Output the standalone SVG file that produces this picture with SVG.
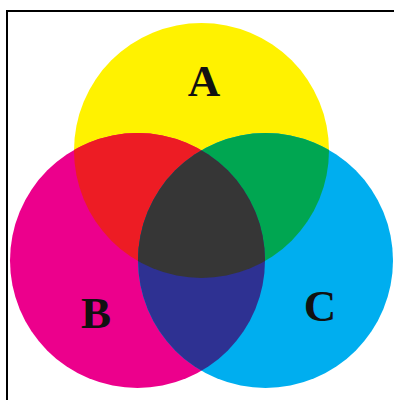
<svg xmlns="http://www.w3.org/2000/svg" width="394" height="400" viewBox="0 0 394 400">
  <style>
    .lbl { font-family: "Liberation Serif", "Times New Roman", serif; font-weight: bold; font-size: 45px; fill: #111; text-anchor: middle; }
  </style>
  <defs>
    <clipPath id="clipA"><circle cx="201.5" cy="150.5" r="127.5"/></clipPath>
    <clipPath id="clipB"><circle cx="137.5" cy="260.5" r="127.5"/></clipPath>
    <clipPath id="clipC"><circle cx="265.5" cy="260.5" r="127.5"/></clipPath>
  </defs>
  <rect x="0" y="0" width="394" height="400" fill="#ffffff"/>
  <path d="M7 400 V11 H394" fill="none" stroke="#000" stroke-width="2"/>
  <g id="circleA"><circle cx="201.5" cy="150.5" r="127.5" fill="#FFF200"/></g>
  <g id="circleB"><circle cx="137.5" cy="260.5" r="127.5" fill="#EC008C"/></g>
  <g id="circleC"><circle cx="265.5" cy="260.5" r="127.5" fill="#00AEEF"/></g>
  <g id="AB" clip-path="url(#clipA)"><circle cx="137.5" cy="260.5" r="127.5" fill="#ED1C24"/></g>
  <g id="AC" clip-path="url(#clipA)"><circle cx="265.5" cy="260.5" r="127.5" fill="#00A651"/></g>
  <g id="BC" clip-path="url(#clipB)"><circle cx="265.5" cy="260.5" r="127.5" fill="#2E3192"/></g>
  <g id="ABC" clip-path="url(#clipA)"><g clip-path="url(#clipB)"><circle cx="265.5" cy="260.5" r="127.5" fill="#363636"/></g></g>
  <g id="labels">
    <text class="lbl" x="204" y="96">A</text>
    <text class="lbl" x="96" y="328">B</text>
    <text class="lbl" x="320" y="321">C</text>
  </g>
</svg>
